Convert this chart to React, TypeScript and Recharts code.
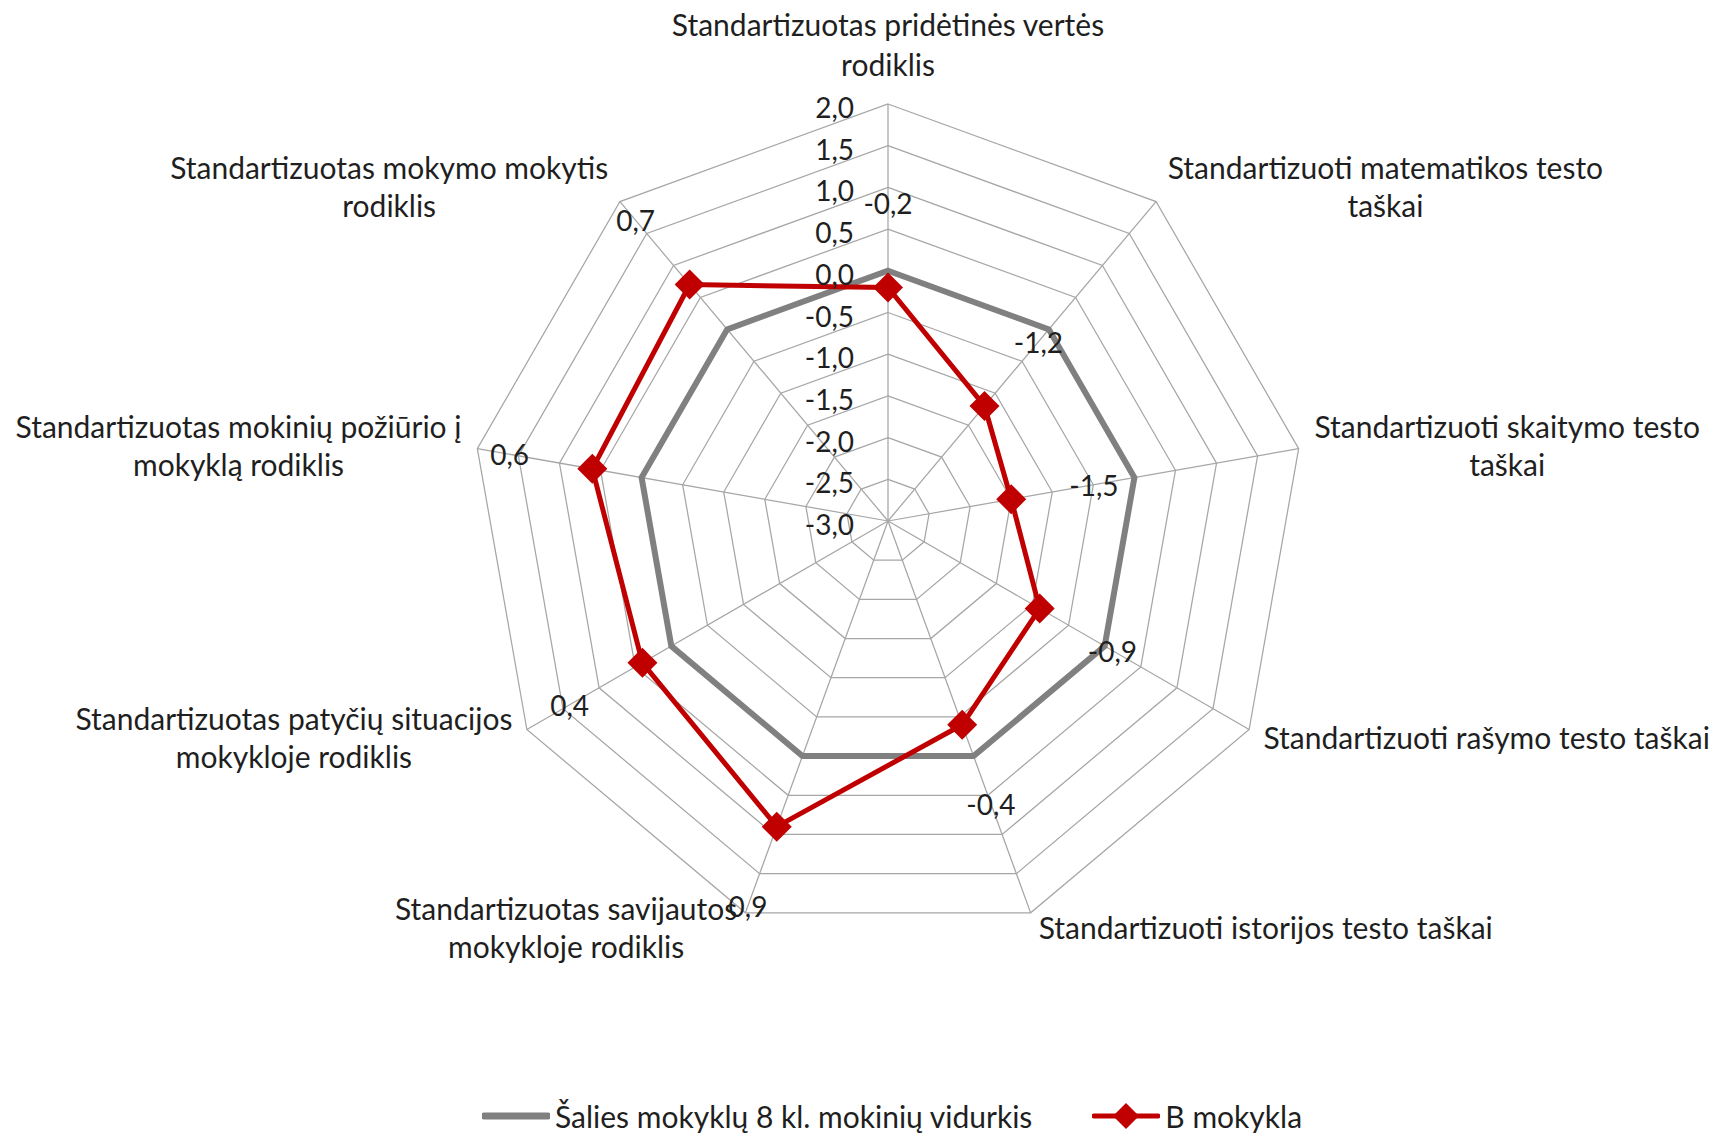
import React from "react";
import {
    RadarChart,
    Radar,
    PolarGrid,
    PolarAngleAxis,
    PolarRadiusAxis,
    Legend,
} from "recharts";

// axis labels, split the way they wrap in the original
const categoryLines: string[][] = [
    ["Standartizuotas pridėtinės vertės", "rodiklis"],
    ["Standartizuoti matematikos testo", "taškai"],
    ["Standartizuoti skaitymo testo", "taškai"],
    ["Standartizuoti rašymo testo taškai"],
    ["Standartizuoti istorijos testo taškai"],
    ["Standartizuotas savijautos", "mokykloje rodiklis"],
    ["Standartizuotas patyčių situacijos", "mokykloje rodiklis"],
    ["Standartizuotas mokinių požiūrio į", "mokyklą rodiklis"],
    ["Standartizuotas mokymo mokytis", "rodiklis"],
];
const categories = categoryLines.map((l) => l.join(" "));

const nationalName = "Šalies mokyklų 8 kl. mokinių vidurkis";
const schoolName = "B mokykla";
const nationalValues = [0, 0, 0, 0, 0, 0, 0, 0, 0];
const schoolValues = [-0.2, -1.2, -1.5, -0.9, -0.4, 0.9, 0.4, 0.6, 0.7];

const radiusTicks = [-3, -2.5, -2, -1.5, -1, -0.5, 0, 0.5, 1, 1.5, 2];

const data = categories.map((name, i) => ({
    name,
    national: nationalValues[i],
    school: schoolValues[i],
}));

const seriesOrder = ["national", "school"];

const W = 1719;
const H = 1135;
const CX = 888;
const CY = 521;
const R = 417;
const FONT = "Lato";
const FS = 28; // numbers
const CAT_FS = 30; // category names, legend
const LINE_H = 40;
const TEXT = "#1f1f1f";
const GRAY = "#808080";
const RED = "#c00000";

const fmt = (v: number) => v.toFixed(1).replace(".", ",");

let ctx: CanvasRenderingContext2D | null = null;
const textWidth = (s: string) => {
    if (!ctx) ctx = document.createElement("canvas").getContext("2d");
    if (!ctx) return s.length * CAT_FS * 0.5;
    ctx.font = `${CAT_FS}px ${FONT}`;
    return ctx.measureText(s).width;
};

const CategoryTick = (props: any) => {
    const { x, y, payload } = props;
    const idx = categories.indexOf(payload.value);
    const lines = categoryLines[idx] || [String(payload.value)];
    const len = Math.hypot(x - CX, y - CY) || 1;
    const dx = (x - CX) / len;
    const dy = (y - CY) / len;
    const vx = CX + dx * R;
    const vy = CY + dy * R;
    const n = lines.length;
    let centerX = vx;
    let lineYs: number[];
    if (Math.abs(dx) < 0.05) {
        lineYs = lines.map((_, i) => vy - 40 - (n - 1 - i) * LINE_H);
    } else {
        const w = Math.max(...lines.map(textWidth));
        const gap = 4 + 12 * Math.abs(dx);
        centerX = dx > 0 ? vx + gap + w / 2 : vx - gap - w / 2;
        const midY = vy + dy * (dy < 0 ? 20 : 15);
        lineYs = lines.map((_, i) => midY + (i - (n - 1) / 2) * 38);
    }
    return (
        <g>
            {lines.map((l, i) => (
                <text
                    key={i}
                    x={centerX}
                    y={lineYs[i]}
                    textAnchor="middle"
                    dominantBaseline="central"
                    fontFamily={FONT}
                    fontSize={CAT_FS}
                    fill={TEXT}
                >
                    {l}
                </text>
            ))}
        </g>
    );
};

const RadiusTick = (props: any) => {
    const { x, y, payload } = props;
    return (
        <text
            x={x - 34}
            y={y + 3}
            textAnchor="end"
            dominantBaseline="central"
            fontFamily={FONT}
            fontSize={FS}
            fill={TEXT}
        >
            {fmt(Number(payload.value))}
        </text>
    );
};

const Diamond = ({ x, y, s, color }: { x: number; y: number; s: number; color: string }) => (
    <polygon
        points={`${x},${y - s} ${x + s},${y} ${x},${y + s} ${x - s},${y}`}
        fill={color}
    />
);

// marker plus the value label pushed outward along its spoke
const SchoolDot = (props: any) => {
    const { cx, cy, value, index } = props;
    if (cx == null || cy == null) return null;
    const len = Math.hypot(cx - CX, cy - CY) || 1;
    const ux = (cx - CX) / len;
    const uy = (cy - CY) / len;
    const v = typeof value === "number" ? value : schoolValues[index];
    return (
        <g key={`dot-${index}`}>
            <Diamond x={cx} y={cy} s={15} color={RED} />
            <text
                x={cx + ux * 84}
                y={cy + uy * 84}
                textAnchor="middle"
                dominantBaseline="central"
                fontFamily={FONT}
                fontSize={FS}
                fill={TEXT}
            >
                {fmt(v)}
            </text>
        </g>
    );
};

const renderLegend = (props: any) => {
    const items = [...(props.payload || [])].sort(
        (a: any, b: any) => seriesOrder.indexOf(a.dataKey) - seriesOrder.indexOf(b.dataKey)
    );
    return (
        <div
            style={{
                display: "flex",
                alignItems: "center",
                paddingLeft: 482,
                fontFamily: FONT,
                fontSize: CAT_FS,
                color: TEXT,
                whiteSpace: "nowrap",
            }}
        >
            {items.map((item: any, i: number) => {
                const isSchool = item.dataKey === "school";
                return (
                    <div
                        key={i}
                        style={{ display: "flex", alignItems: "center", marginRight: i === 0 ? 60 : 0 }}
                    >
                        <svg width={68} height={30} style={{ marginRight: 5 }}>
                            <line
                                x1={2}
                                x2={66}
                                y1={15}
                                y2={15}
                                stroke={item.color}
                                strokeWidth={isSchool ? 5 : 7}
                                strokeLinecap="round"
                            />
                            {isSchool && <Diamond x={34} y={15} s={13} color={item.color} />}
                        </svg>
                        <span>{item.value}</span>
                    </div>
                );
            })}
        </div>
    );
};

export default function App() {
    return (
        <div
            style={{
                position: "absolute",
                left: 0,
                top: 0,
                width: W,
                height: H,
                background: "#fff",
            }}
        >
            <RadarChart
                width={W}
                height={H}
                data={data}
                cx={CX}
                cy={CY}
                outerRadius={R}
                margin={{ top: 0, right: 0, bottom: 0, left: 0 }}
            >
                <PolarGrid gridType="polygon" stroke="#a6a6a6" strokeWidth={1.25} />
                <PolarAngleAxis
                    dataKey="name"
                    tick={<CategoryTick />}
                    tickLine={false}
                    axisLine={false}
                />
                <PolarRadiusAxis
                    angle={90}
                    domain={[-3, 2]}
                    ticks={radiusTicks as any}
                    tickCount={11}
                    tick={<RadiusTick />}
                    tickLine={false}
                    axisLine={false}
                />
                <Radar
                    name={nationalName}
                    dataKey="national"
                    stroke={GRAY}
                    strokeWidth={6}
                    fill="none"
                    fillOpacity={0}
                    dot={false}
                    isAnimationActive={false}
                />
                <Radar
                    name={schoolName}
                    dataKey="school"
                    stroke={RED}
                    strokeWidth={5}
                    fill="none"
                    fillOpacity={0}
                    dot={<SchoolDot />}
                    isAnimationActive={false}
                />
                <Legend
                    content={renderLegend}
                    wrapperStyle={{ left: 0, top: 1098, bottom: "auto", width: W }}
                />
            </RadarChart>
        </div>
    );
}
